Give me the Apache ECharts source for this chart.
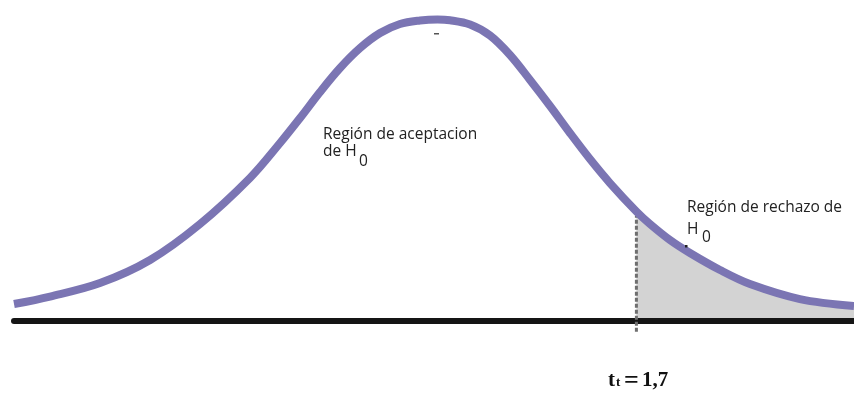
<!DOCTYPE html>
<html>
<head>
<meta charset="utf-8">
<script src="https://cdn.jsdelivr.net/npm/echarts@6/dist/echarts.min.js"></script>
<style>
  html, body { margin: 0; padding: 0; background: #fff; }
  #chart { width: 854px; height: 403px; }
</style>
</head>
<body>
<div id="chart"></div>
<script>
// valores t (eje x) y altura de la curva
var tValues = [-3.62, -3.312, -2.885, -2.457, -2.03, -1.603, -1.346, -1.175, -1.004, -0.833,
  -0.662, -0.491, -0.321, -0.15, 0, 0.107, 0.278, 0.449, 0.62, 0.791, 0.962, 1.132, 1.303,
  1.474, 1.70, 1.816, 1.987, 2.158, 2.415, 2.671, 3.098, 3.56];
var density = [0.0220, 0.0317, 0.0491, 0.0789, 0.1254, 0.1849, 0.2301, 0.2624, 0.2961, 0.3271,
  0.3529, 0.3723, 0.3840, 0.3885, 0.3898, 0.3888, 0.3833, 0.3691, 0.3439, 0.3116, 0.2780, 0.2431, 0.2094,
  0.1784, 0.1416, 0.1254, 0.1047, 0.0879, 0.0659, 0.0478, 0.0284, 0.0194];
var tCritical = 1.7;
var dashRange = [-0.014, 0.136];

var curve = tValues.map(function (t, i) { return [t, density[i]]; });
var tail = curve.filter(function (p) { return p[0] >= tCritical; });

var chart = echarts.init(document.getElementById('chart'));
var txtFont = '15.5px "Open Sans"';
var serif = '"Liberation Serif"';
chart.setOption({
  animation: false,
  grid: { left: 14, right: 0, top: 0, bottom: 4.6 },
  xAxis: {
    type: 'value',
    min: -3.62,
    max: 3.56,
    z: 2,
    axisLine: { onZero: true, lineStyle: { color: '#151515', width: 6 } },
    axisTick: { show: false },
    axisLabel: { show: false },
    splitLine: { show: false }
  },
  yAxis: {
    type: 'value',
    min: -0.1,
    max: 0.415,
    show: false
  },
  series: [
    {
      // region de rechazo sombreada
      type: 'line',
      data: tail,
      smooth: 0.35,
      symbol: 'none',
      z: 1,
      lineStyle: { width: 0 },
      areaStyle: { color: '#d3d3d3', opacity: 1 }
    },
    {
      type: 'line',
      data: [[tCritical, dashRange[0]], [tCritical, dashRange[1]]],
      symbol: 'none',
      z: 3,
      clip: false,
      lineStyle: { color: '#6f6f6f', width: 3, type: [4, 2] }
    },
    {
      type: 'line',
      data: curve,
      smooth: 0.35,
      symbol: 'none',
      z: 4,
      clip: false,
      lineStyle: { color: '#7b75b3', width: 8, cap: 'butt' }
    }
  ],
  graphic: [
    { type: 'text', left: 323, top: 127, style: { text: 'Región de aceptacion', font: txtFont, fill: '#222' } },
    { type: 'text', left: 323, top: 144, style: { text: 'de H', font: txtFont, fill: '#222' } },
    { type: 'text', left: 359, top: 154, style: { text: '0', font: txtFont, fill: '#222' } },
    { type: 'text', left: 687, top: 200, style: { text: 'Región de rechazo de', font: txtFont, fill: '#222' } },
    { type: 'text', left: 687, top: 222, style: { text: 'H', font: txtFont, fill: '#222' } },
    { type: 'text', left: 702, top: 230, style: { text: '0', font: txtFont, fill: '#222' } },
    // pequeñas marcas sueltas de la figura original
    { type: 'rect', z: 10, shape: { x: 434, y: 33, width: 5, height: 1.5 }, style: { fill: '#555' } },
    { type: 'rect', z: 10, shape: { x: 685, y: 245, width: 2.5, height: 2.5 }, style: { fill: '#222' } },
    { type: 'text', left: 608, top: 370, style: { text: 't', font: 'bold 21px ' + serif, fill: '#111' } },
    { type: 'text', left: 616, top: 376, style: { text: 't', font: 'bold 13px ' + serif, fill: '#111' } },
    { type: 'text', left: 624, top: 368, style: { text: '=', font: 'bold 26px ' + serif, fill: '#111' } },
    { type: 'text', left: 642, top: 370, style: { text: '1,7', font: 'bold 21px ' + serif, fill: '#111' } }
  ]
});
</script>
</body>
</html>
